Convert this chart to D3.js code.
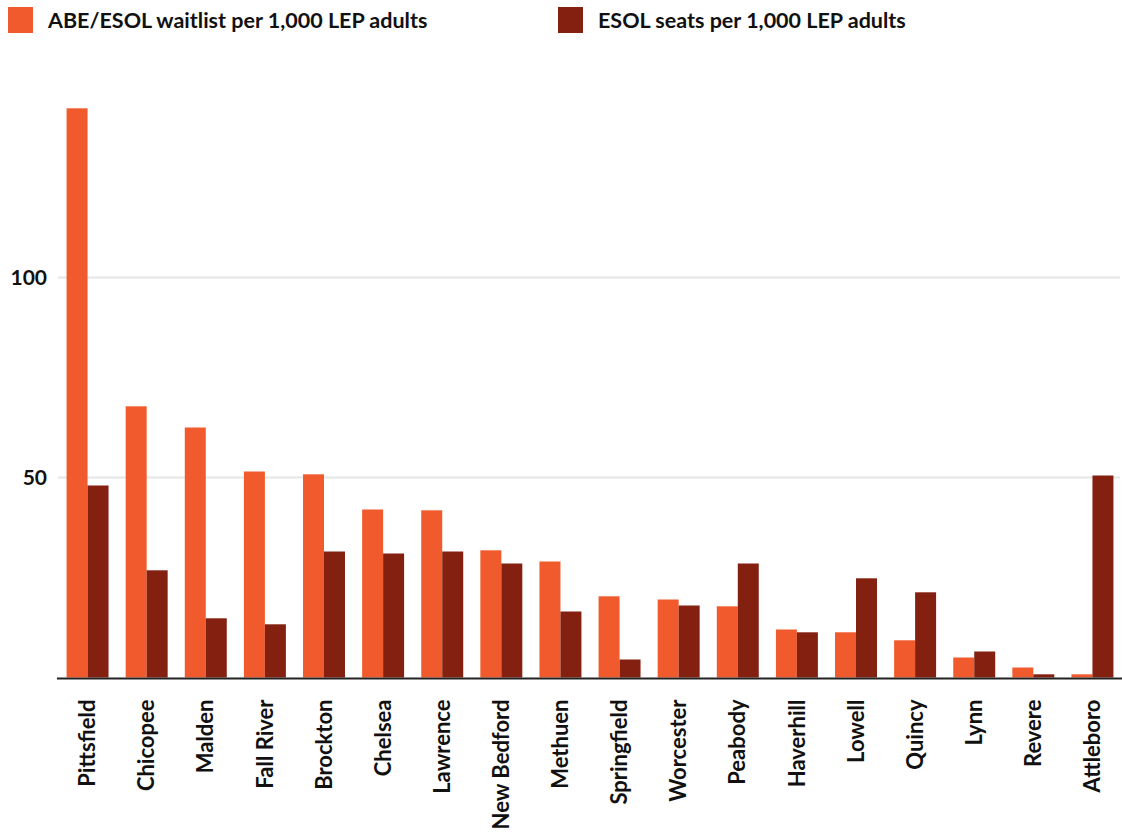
<!DOCTYPE html>
<html lang="en">
<head>
    <meta charset="UTF-8">
    <title>ABE/ESOL waitlist vs ESOL seats</title>
    <script src="https://cdn.jsdelivr.net/npm/d3@7"></script>
    <style>
        body { margin: 0; background: #fff; }
        text { font-family: "Source Sans Pro", Lato, "Open Sans", sans-serif; }
    </style>
</head>
<body>
<script type="application/javascript">

    let w = 1122, h = 836;

    let cities = ['Pittsfield', 'Chicopee', 'Malden', 'Fall River', 'Brockton', 'Chelsea', 'Lawrence',
        'New Bedford', 'Methuen', 'Springfield', 'Worcester', 'Peabody', 'Haverhill', 'Lowell',
        'Quincy', 'Lynn', 'Revere', 'Attleboro'];
    let waitlist = [142.3, 67.8, 62.5, 51.5, 50.8, 42, 41.8, 31.8, 29, 20.3, 19.5, 17.8, 12, 11.3, 9.3, 5, 2.5, 0.8];
    let seats = [48, 26.8, 14.8, 13.3, 31.5, 31, 31.5, 28.5, 16.5, 4.5, 18, 28.5, 11.3, 24.8, 21.3, 6.5, 0.8, 50.5];
    let seriesNames = ['ABE/ESOL waitlist per 1,000 LEP adults', 'ESOL seats per 1,000 LEP adults'];
    let colors = ['#f15a2c', '#832010'];
    let yTicks = [50, 100];

    let margin = {top: 77, left: 58, right: 0, bottom: 159};

    let svg = d3.select('body')
        .append('svg')
        .attr('width', w)
        .attr('height', h);

    let x = d3.scaleBand()
        .domain(cities)
        .range([margin.left, w - margin.right])
        .paddingInner(0.29)
        .paddingOuter(0.145);

    let x1 = d3.scaleBand()
        .domain([0, 1])
        .range([0, x.bandwidth()]);

    let y = d3.scaleLinear()
        .domain([0, 150])
        .range([h - margin.bottom + 0.5, h - margin.bottom - 600 + 0.5]);

    // grid lines
    svg.append('g')
        .selectAll('line')
        .data(yTicks)
        .enter()
        .append('line')
        .attr('x1', margin.left)
        .attr('x2', w - 2)
        .attr('y1', d => y(d))
        .attr('y2', d => y(d))
        .attr('stroke', '#e6e6e6')
        .attr('stroke-width', 2);

    svg.append('g')
        .selectAll('text')
        .data(yTicks)
        .enter()
        .append('text')
        .attr('x', 47)
        .attr('y', d => y(d))
        .attr('dy', '0.35em')
        .attr('text-anchor', 'end')
        .attr('font-size', 21)
        .attr('font-weight', 'bold')
        .attr('fill', '#111')
        .text(d => d);

    let groups = svg.selectAll('g.city')
        .data(cities)
        .enter()
        .append('g')
        .attr('class', 'city')
        .attr('transform', d => 'translate(' + x(d) + ',0)');

    groups.selectAll('rect')
        .data((d, i) => [waitlist[i], seats[i]])
        .enter()
        .append('rect')
        .attr('x', (d, j) => x1(j))
        .attr('width', x1.bandwidth())
        .attr('y', d => y(d))
        .attr('height', d => y(0) - y(d))
        .attr('fill', (d, j) => colors[j]);

    // baseline
    svg.append('line')
        .attr('x1', margin.left - 1)
        .attr('x2', w)
        .attr('y1', y(0) + 1)
        .attr('y2', y(0) + 1)
        .attr('stroke', '#222')
        .attr('stroke-width', 2);

    groups.append('text')
        .attr('transform', d => 'translate(' + (x.bandwidth() / 2) + ',' + (y(0) + 22) + ') rotate(-90)')
        .attr('dy', '0.35em')
        .attr('text-anchor', 'end')
        .attr('font-size', 22)
        .attr('font-weight', 'bold')
        .attr('fill', '#111')
        .text(d => d);

    // legend
    let legendX = [8, 558];
    let legend = svg.selectAll('g.legend')
        .data(seriesNames)
        .enter()
        .append('g')
        .attr('class', 'legend')
        .attr('transform', (d, i) => 'translate(' + legendX[i] + ',7)');

    legend.append('rect')
        .attr('width', 25)
        .attr('height', 26)
        .attr('fill', (d, i) => colors[i]);

    legend.append('text')
        .attr('x', 40)
        .attr('y', 13)
        .attr('dy', '0.35em')
        .attr('font-size', 21.5)
        .attr('font-weight', 'bold')
        .attr('fill', '#111')
        .text(d => d);

</script>
</body>
</html>
